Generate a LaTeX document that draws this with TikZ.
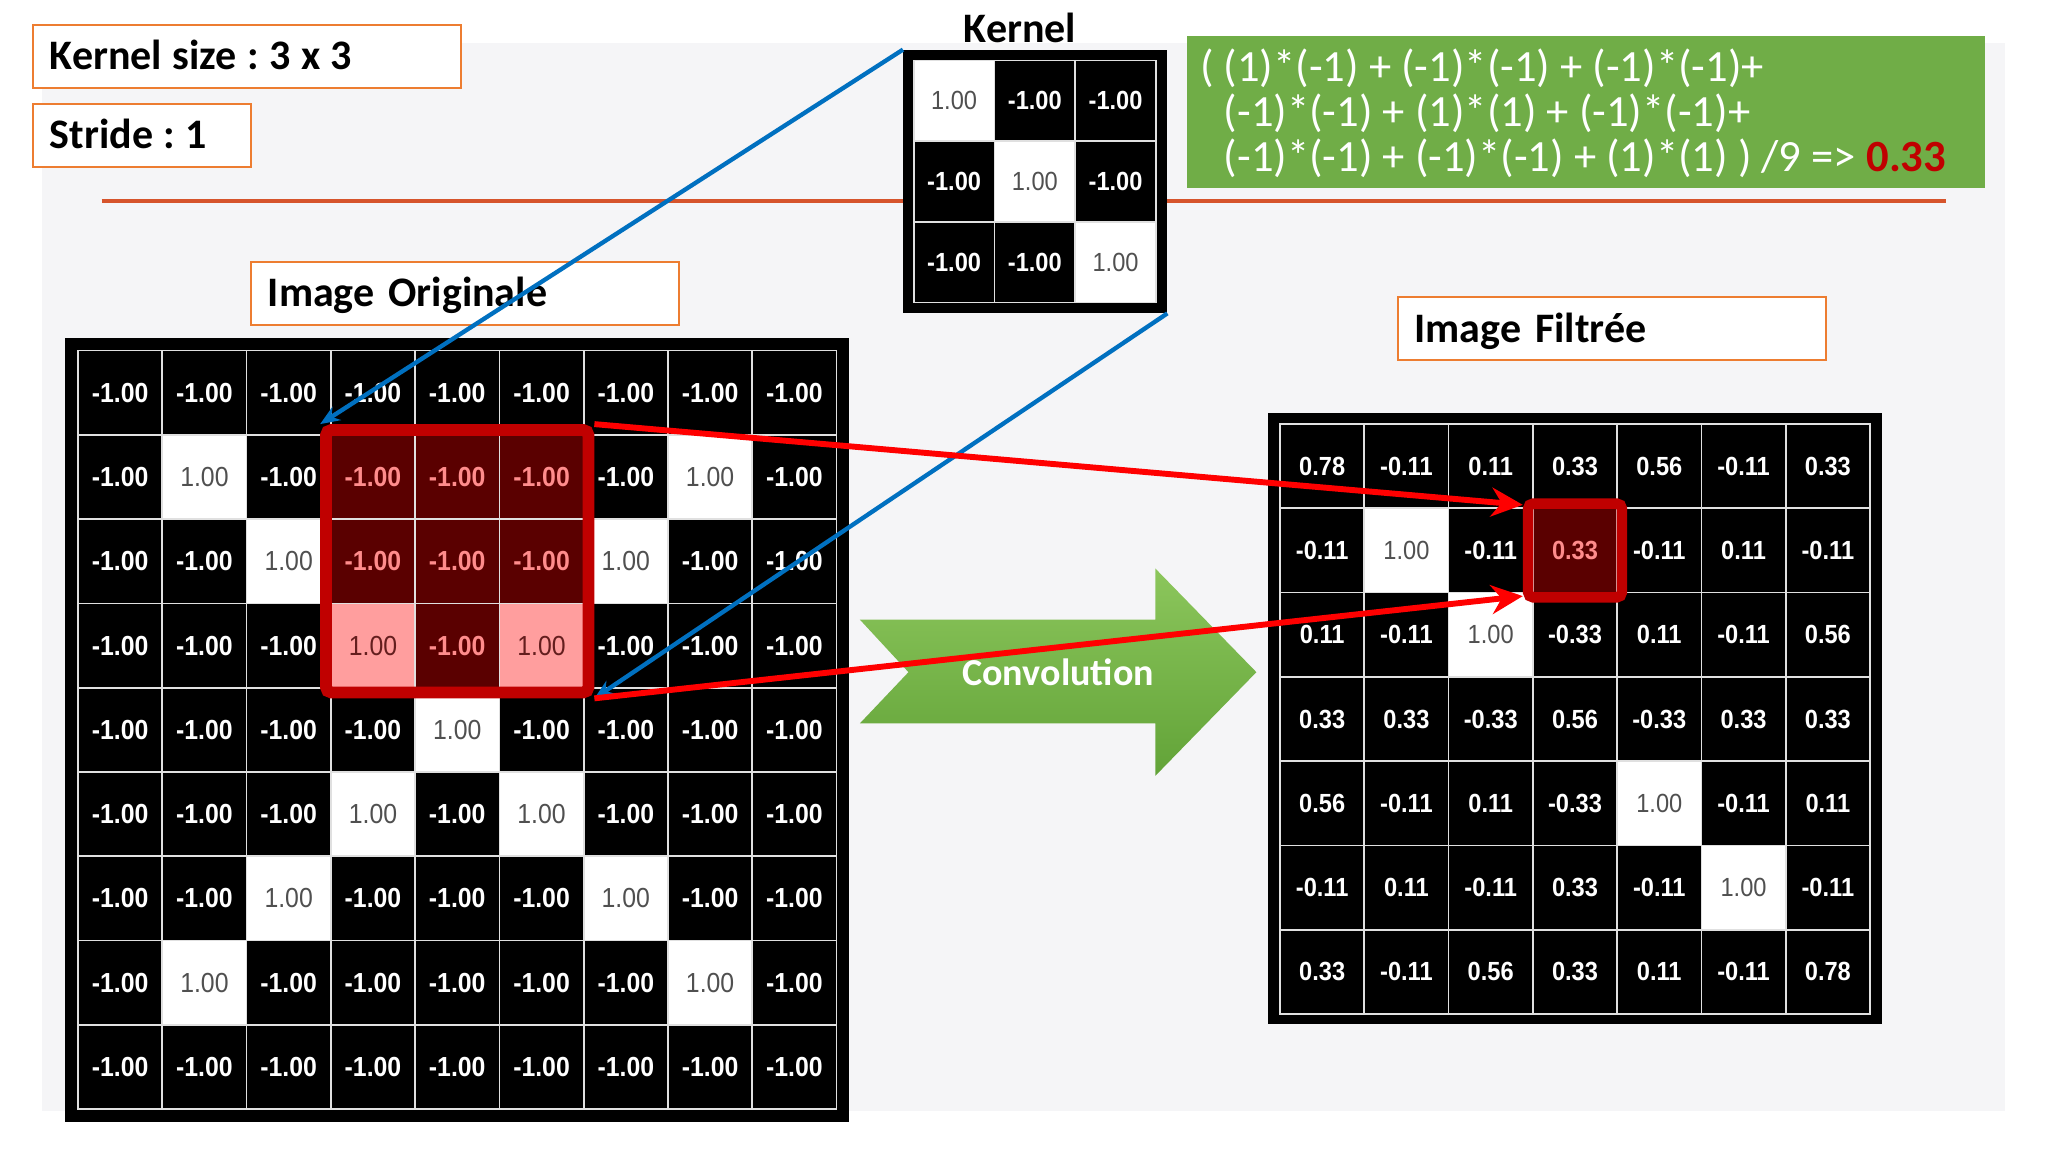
\documentclass[tikz,border=0pt]{standalone}
\usepackage{fontspec}
\setmainfont{Carlito}
\newfontfamily\cellfont[FakeStretch=0.9]{Liberation Sans}
\usetikzlibrary{arrows.meta,fit}
\frenchspacing

\definecolor{panelgray}{RGB}{245,245,247}
\definecolor{boxorange}{RGB}{237,125,49}
\definecolor{lineorange}{RGB}{214,84,44}
\definecolor{eqgreen}{RGB}{112,173,71}
\definecolor{arrowlight}{RGB}{140,198,92}
\definecolor{arrowdark}{RGB}{98,163,56}
\definecolor{linkblue}{RGB}{0,112,192}
\definecolor{linkred}{RGB}{255,0,0}
\definecolor{winred}{RGB}{192,0,0}
\definecolor{celldark}{RGB}{90,0,0}
\definecolor{cellpink}{RGB}{255,158,158}
\definecolor{textpink}{RGB}{255,140,140}
\definecolor{textdark}{RGB}{100,30,30}
\definecolor{textgray}{RGB}{80,80,80}

\newcommand\cellsize{\fontsize{21}{21}\selectfont}

\tikzset{
  labelbox/.style={draw=boxorange, fill=white, line width=1.5pt, minimum height=48pt,
    inner xsep=13pt, inner ysep=0pt, align=left, text height=20.6pt, text depth=0pt,
    font=\bfseries\fontsize{32}{38}\selectfont},
  tightspace/.style={execute at begin node={\spaceskip 8pt\relax}},
  gridframe/.style={fill=black, inner sep=0pt},
  cell/.style={draw=white!88!black, line width=1.3pt, inner sep=0pt, minimum size=64.2pt},
  cell0/.style={cell, fill=black, text=white, font=\cellfont\bfseries\cellsize},
  cell1/.style={cell, fill=white, text=textgray, font=\cellfont\cellsize},
  cell2/.style={cell, fill=celldark, text=textpink, font=\cellfont\bfseries\cellsize},
  cell3/.style={cell, fill=cellpink, text=textdark, font=\cellfont\cellsize},
  window/.style={draw=winred, rounded corners=4pt},
  eqline/.style={anchor=base west, text=white, inner sep=0pt, font=\fontsize{34}{36}\selectfont},
  bluelink/.style={draw=linkblue, line width=3.3pt, -{Stealth[length=15pt,width=12pt]}},
  redlink/.style={draw=linkred, line width=4.5pt, -{Stealth[length=24pt,width=22pt]}}
}

\begin{document}
\begin{tikzpicture}[x=1pt, y=-1pt]
    \useasboundingbox (0,0) rectangle (1560,877.5);
    \fill[white] (0,0) rectangle (1560,877.5);

    % Background panel and separator
    \fill[panelgray] (32,33) rectangle (1527,846);
    \draw[lineorange, line width=3pt] (77.5,153) -- (1482,153);

    % Parameter labels
    \node[labelbox, tightspace, text width=300pt] (ksize) at (188,43) {Kernel size : 3 x 3};
    \node[labelbox, tightspace, text width=140pt] (stride) at (108,103) {Stride : 1};
    \node[labelbox, text width=300pt] (origlabel) at (354,223.25) {Image Originale};
    \node[labelbox, text width=300.5pt] (filtlabel) at (1227.75,250.5) {Image Filtrée};

    % Kernel
    \node[anchor=base, font=\bfseries\fontsize{32}{38}\selectfont] (ktitle) at (777,32.5) {Kernel};
    \node[gridframe, minimum width=201pt, minimum height=200.5pt] (kframe) at (788.5,138.25) {};
    \renewcommand\cellsize{\fontsize{20}{20}\selectfont}
    \foreach \row [count=\r from 0] in {{1,0,0},{0,1,0},{0,0,1}}
        \foreach \s [count=\c from 0] in \row
            \node[cell\s, minimum size=61.5pt] (k-\r-\c) at ({726.75+61.5*\c},{76.75+61.5*\r})
                {\ifodd\s\relax 1.00\else -1.00\fi};

    % Formula
    \node[fill=eqgreen, minimum width=608pt, minimum height=115.6pt] (eqbox) at (1208,85.2) {};
    \node[eqline] (eq1) at (914,62) {( (1)*(-1) + (-1)*(-1) + (-1)*(-1)+};
    \node[eqline] (eq2) at (932,96.5) {(-1)*(-1) + (1)*(1) + (-1)*(-1)+};
    \node[eqline] (eq3) at (932,131) {(-1)*(-1) + (-1)*(-1) + (1)*(1) ) /9 => \textcolor{winred}{\bfseries 0.33}};

    % Original image
    \node[gridframe, minimum width=597.5pt, minimum height=597pt] (oframe) at (348.25,556) {};
    \renewcommand\cellsize{\fontsize{21}{21}\selectfont}
    \foreach \row [count=\r from 0] in {
        {0,0,0,0,0,0,0,0,0},
        {0,1,0,2,2,2,0,1,0},
        {0,0,1,2,2,2,1,0,0},
        {0,0,0,3,2,3,0,0,0},
        {0,0,0,0,1,0,0,0,0},
        {0,0,0,1,0,1,0,0,0},
        {0,0,1,0,0,0,1,0,0},
        {0,1,0,0,0,0,0,1,0},
        {0,0,0,0,0,0,0,0,0}}
        \foreach \s [count=\c from 0] in \row
            \node[cell\s] (o-\r-\c) at ({91.5+64.2*\c},{299.1+64.2*\r})
                {\ifodd\s\relax 1.00\else -1.00\fi};
    \node[window, fit=(o-1-3)(o-3-5), line width=9pt, inner sep=3pt] (owin) {};

    % Filtered image
    \node[gridframe, minimum width=467.5pt, minimum height=465.5pt] (fframe) at (1199.75,547.25) {};
    \renewcommand\cellsize{\fontsize{20}{20}\selectfont}
    \foreach \row [count=\r from 0] in {
        {0/0.78,0/-0.11,0/0.11,0/0.33,0/0.56,0/-0.11,0/0.33},
        {0/-0.11,1/1.00,0/-0.11,2/0.33,0/-0.11,0/0.11,0/-0.11},
        {0/0.11,0/-0.11,1/1.00,0/-0.33,0/0.11,0/-0.11,0/0.56},
        {0/0.33,0/0.33,0/-0.33,0/0.56,0/-0.33,0/0.33,0/0.33},
        {0/0.56,0/-0.11,0/0.11,0/-0.33,1/1.00,0/-0.11,0/0.11},
        {0/-0.11,0/0.11,0/-0.11,0/0.33,0/-0.11,1/1.00,0/-0.11},
        {0/0.33,0/-0.11,0/0.56,0/0.33,0/0.11,0/-0.11,0/0.78}}
        \foreach \s/\t [count=\c from 0] in \row
            \node[cell\s] (f-\r-\c) at ({1007.1+64.2*\c},{355.1+64.2*\r}) {\t};
    \node[window, fit=(f-1-3), line width=8pt, inner sep=3pt] (fwin) {};

    % Convolution arrow
    \shade[top color=arrowlight, bottom color=arrowdark]
        (655,472) -- (880,472) -- (880,433) -- (957,512) -- (880,591)
        -- (880,551) -- (655,551) -- (692,512) -- cycle;
    \node[anchor=base, text=white, font=\bfseries\fontsize{29}{34}\selectfont] (conv) at (806,522) {Convolution};

    % Links
    \draw[bluelink] (kframe.north west) -- (owin.north west);
    \draw[bluelink] (kframe.south east) -- (owin.south east);
    \draw[redlink] (owin.north east) -- ([yshift=-5pt]fwin.north west);
    \draw[redlink] (owin.south east) -- ([yshift=5pt]fwin.south west);
\end{tikzpicture}
\end{document}
